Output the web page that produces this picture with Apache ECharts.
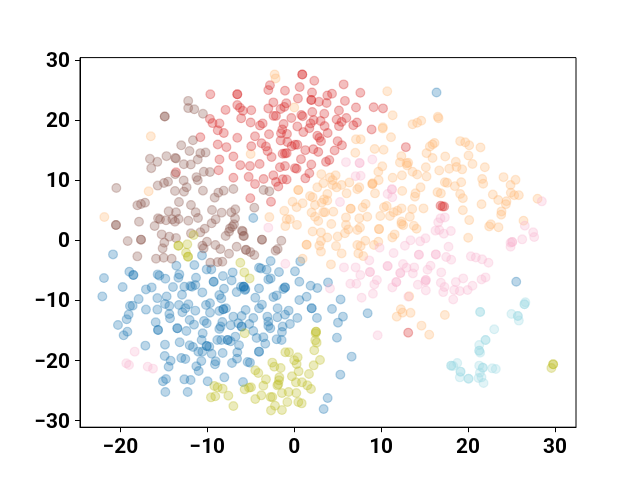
<!DOCTYPE html>
<html><head><meta charset="utf-8">
<style>html,body{margin:0;padding:0;background:#fff}#c{width:640px;height:480px}</style>
<script src="https://cdn.jsdelivr.net/npm/echarts@6/dist/echarts.min.js"></script>
</head><body><div id="c"></div>
<script>
const xTicks=[-20,-10,0,10,20,30];
const yTicks=[-30,-20,-10,0,10,20,30];
const blue=[[16.38,24.6],[25.55,-6.92],[-4.71,3.7],[-2.71,-3.47],[0.7,-3.53],[-4.05,-4.58],[-3.82,-4.7],[-3.17,-4.92],[-1.75,-5.3],[0.09,-5.19],[-2.98,-6.53],[-2.71,-6.36],[0.59,-6.91],[3.89,-7.03],[1.89,-7.58],[2.66,-7.97],[-1.06,-7.86],[-1.06,-7.86],[-1.25,-8.14],[-4.05,-8.03],[-5.78,-7.75],[-6.13,-7.75],[-5.67,-8.3],[-2.02,-9.19],[-2.4,-9.47],[-4.48,-9.58],[1.43,-9.41],[0.59,-9.97],[5.34,-9.86],
[-20.85,-2.36],[-21.89,-6.3],[-22.08,-9.36],[-19.74,-7.8],[-18.97,-5.25],[-18.51,-5.8],[-18.51,-5.8],[-15.71,-5.69],[-15.52,-5.9],[-14.83,-6.41],[-13.33,-6.25],[-13.22,-5.69],[-13.56,-4.25],[-11.49,-4.14],[-10.61,-2.53],[-10.07,-4.86],[-9.54,-4.86],[-11.3,-6.25],[-17.06,-8.19],[-16.4,-7.86],[-13.95,-7.8],[-12.64,-7.75],[-11.95,-7.64],[-11.38,-7.47],[-11.76,-7.75],[-10.57,-8.69],[-9.27,-6.92],[-9.27,-6.92],[-8.2,-5.97],[-7.08,-5.36],[-7.2,-6.69],[-8.08,-8.08],[-8.62,-9.14],[-8.39,-9.69],[-6.62,-8.64],[-5.82,-7.75],[-5.82,-7.75],[-5.62,-8.14],[-15.75,-9.64],[-14.68,-9.36],[-12.91,-9.08],[-17.9,-9.8],
[-18.9,-10.95],[-18.59,-10.9],[-17.06,-11.56],[-15.75,-11.56],[-14.87,-10.62],[-14.37,-10.95],[-14.37,-12.28],[-14.29,-13.0],[-13.26,-10.78],[-12.18,-10.67],[-12.53,-11.34],[-12.87,-11.99],[-11.38,-11.73],[-19.05,-12.39],[-19.28,-13.17],[-20.28,-14.12],[-19.2,-15.23],[-19.63,-15.84],[-15.94,-13.67],[-15.67,-14.95],[-15.67,-14.95],[-13.45,-14.67],[-13.45,-14.67],[-12.41,-15.12],[-12.03,-13.28],[-11.53,-14.06],[-10.38,-13.45],[-10.07,-13.84],[-10.15,-10.78],[-9.69,-10.5],[-9.69,-12.06],[-8.62,-11.78],[-8.16,-11.51],[-8.16,-11.51],[-7.85,-11.34],[-8.27,-13.62],[-8.62,-14.78],[-8.46,-14.39],[-7.31,-14.17],[-7.0,-12.73],[-6.05,-12.62],[-5.59,-11.62],[-6.43,-13.84],[-6.05,-14.39],[-6.05,-14.39],[-10.53,-15.51],[-10.65,-16.62],[-8.85,-16.62],[-8.39,-16.62],[-7.66,-16.62],[-7.66,-16.62],[-7.31,-16.84],[-6.77,-16.06],[-6.35,-17.5],[-13.18,-17.0],[-12.03,-17.5],[-11.65,-17.78],[-11.03,-18.56],[-10.57,-18.56],[-10.07,-17.62],[-10.07,-17.62],[-9.77,-17.73],[-9.5,-18.9],[-8.23,-18.78],[-6.55,-18.67],[-6.58,-19.73],[-7.16,-20.45],[-9.04,-20.17],[-9.12,-20.67],[-10.69,-20.12],[-11.26,-21.0],[-10.99,-21.78],[-17.13,-17.56],[-14.87,-17.39],[-14.9,-19.28],[-14.22,-20.06],[-14.45,-21.06],[-12.99,-19.62],[-12.53,-19.78],[-14.75,-23.12],[-15.1,-23.5],[-12.64,-23.17],[-11.92,-23.28],[-9.96,-23.5],[-8.04,-22.84],[-5.89,-23.62],[-14.83,-25.28],[-12.26,-25.28],[-5.36,-20.28],[-5.09,-20.39],
[-3.71,-10.73],[-4.05,-11.34],[-4.71,-12.95],[-5.17,-13.95],[-4.71,-15.12],[-3.09,-12.73],[-1.94,-12.84],[-2.98,-13.56],[-2.98,-14.28],[-2.75,-14.67],[-1.91,-11.34],[-1.06,-12.4],[-0.64,-11.73],[0.36,-12.95],[-0.49,-13.95],[-1.33,-14.39],[-1.41,-15.28],[-2.02,-16.5],[-1.45,-16.62],[-4.32,-16.28],[-3.55,-16.17],[-3.33,-17.23],[-4.05,-18.56],[-4.05,-18.56],[2.01,-11.34],[2.01,-11.34],[2.62,-12.95],[4.35,-11.45],[5.61,-12.73],[5.04,-13.73],[8.45,-12.17],[4.92,-16.23],[6.61,-19.39],[5.31,-22.39],[3.85,-26.28],[3.39,-28.12]];
const orange=[[-2.25,27.6],[-2.14,26.95],[0.01,22.1],[10.71,24.8],[11.33,20.8],[10.2,18.8],[10.18,18.6],[11.14,17.15],[7.11,16.8],[7.65,16.8],[7.03,14.55],[9.26,15.2],[10.29,15.05],[-5.01,14.35],[12.33,14.0],[12.17,12.95],[12.94,12.8],[10.14,12.3],[9.68,11.4],[12.4,10.8],[11.33,10.4],[3.12,11.0],[4.77,10.8],[4.12,10.45],[4.42,10.0],[9.72,10.0],[8.99,9.35],[8.99,9.35],
[16.53,20.55],[16.61,20.3],[14.62,19.9],[14.15,19.55],[13.62,19.3],[19.1,16.5],[19.68,16.3],[20.14,15.8],[21.44,15.45],[16.15,16.2],[15.92,15.95],[15.61,15.6],[15.23,14.5],[15.92,13.7],[17.38,13.95],[20.06,14.1],[18.6,13.05],[20.52,12.7],[18.68,12.2],[19.33,11.8],[17.84,11.9],[16.69,11.6],[15.15,12.15],[21.94,12.15],[13.12,12.9],[13.0,12.45],[13.62,11.4],[14.15,10.95],[15.23,10.6],[24.09,10.5],[25.47,10.05],[21.63,10.2],[21.75,9.4],[24.9,9.2],[17.34,9.65],[17.6,9.55],[18.49,9.0],[19.22,9.65],[14.54,8.8],
[12.43,8.2],[13.96,7.8],[13.89,7.25],[16.49,8.0],[16.88,7.8],[19.1,7.7],[19.41,7.0],[22.86,7.6],[23.48,6.7],[24.43,6.5],[24.36,6.0],[24.93,7.9],[25.32,7.5],[25.85,7.5],[28.0,6.9],[21.56,6.0],[12.35,5.3],[13.58,5.2],[14.88,5.3],[19.41,5.0],[23.86,4.8],[23.82,4.25],[13.31,3.9],[20.14,3.35],[26.39,3.25],[22.63,2.65],[22.44,2.3],[23.51,2.15],[12.35,3.1],[12.54,2.5],[12.35,2.7],[13.77,2.4],[14.08,1.9],[20.02,0.4],[13.23,-9.35],
[0.47,8.35],[0.47,8.35],[3.35,9.5],[2.66,8.8],[4.42,9.2],[4.88,8.8],[5.46,9.2],[6.34,9.6],[7.26,8.5],[7.49,8.8],[9.03,9.5],[6.03,7.8],[3.81,7.7],[1.82,7.35],[9.3,7.8],[2.12,7.15],[-0.18,6.4],[0.97,6.15],[0.28,5.5],[2.39,5.85],[3.16,6.25],[3.81,6.6],[3.43,6.8],[4.5,4.75],[3.35,4.65],[3.54,4.65],[2.0,4.6],[6.5,5.25],[6.5,5.25],[8.22,6.05],[7.88,5.45],[7.49,3.65],[8.41,3.9],[5.96,3.8],[-1.14,4.9],[-2.86,3.85],[-0.49,3.5],[-0.87,3.5],[-1.02,2.35],[0.32,2.55],[2.77,3.2],[2.39,3.9],[4.27,2.7],[5.96,2.55],[6.23,1.8],[5.84,1.15],[5.0,0.6],[2.12,1.45],[3.08,1.3],[3.81,0.45],[1.43,-0.75],[1.43,-0.75],[3.08,-0.15],[2.89,-0.9],[3.08,-1.9],[4.81,-0.97],[5.46,-2.2],[7.26,1.7],[7.57,2.1],[9.76,1.85],[9.76,1.85],[8.18,-0.08],[9.18,-0.8],[7.26,-0.8],[7.65,-0.97],[7.38,-2.2],[7.95,-2.65],[9.68,-0.25],[4.23,-4.03],[0.97,-3.08],[10.64,5.7],[10.33,5.5],[11.87,4.9],[11.44,4.65],[9.91,4.03],[11.02,4.03],[11.29,0.47],[11.56,0.97],
[-16.75,8.14],[-21.85,3.86],[12.27,-11.5],[12.47,-12.06],[13.39,-12.1],[11.8,-12.73],[17.34,-12.45],[14.65,-14.23],[15.54,-15.73],[-16.5,17.3]];
const red=[[-9.65,24.3],[-6.55,24.3],[-6.55,24.3],[-6.55,22.5],[-6.24,22.05],[-5.9,21.55],[-7.9,21.7],[-6.1,20.3],[-9.7,20.2],[-9.4,19.5],[-8.6,19.45],[-8.8,18.3],[-8.1,17.85],[-10.8,17.15],[-6.55,17.05],[-8.8,15.95],[-7.8,15.5],[-7.0,13.95],[-8.6,13.45],[-6.2,12.5],[-8.7,11.65],[-7.0,10.4],[-13.6,11.3],
[0.93,27.6],[0.93,27.6],[2.31,26.55],[5.69,25.95],[0.63,25.5],[-2.79,25.8],[-2.98,25.0],[-1.06,24.9],[7.61,24.55],[2.05,24.6],[0.43,23.6],[1.97,23.35],[1.97,23.35],[-2.4,22.95],[-0.91,22.8],[3.81,24.1],[4.35,24.4],[2.85,23.05],[3.73,22.85],[5.84,23.2],[-1.14,22.2],[-1.56,21.85],[-2.98,21.95],[-4.94,21.65],[7.11,22.1],[9.14,22.15],[10.22,21.95],[5.15,21.6],[2.08,21.35],[3.46,21.05],[0.82,20.85],[0.97,20.65],[-0.33,20.35],[-2.37,20.7],[-2.1,20.7],[-5.01,19.6],[-3.63,19.45],[-3.94,19.1],[6.0,20.35],[4.88,20.1],[5.46,19.7],[5.15,19.0],[7.22,19.6],[6.8,19.15],[2.24,20.0],[3.04,19.85],[1.89,19.45],[-1.22,19.35],[0.36,18.95],[3.5,19.0],[1.74,18.65],[-1.37,18.45],[-1.52,17.8],[-0.83,17.7],[1.05,18.0],[3.85,17.85],[8.91,18.45],[-2.9,17.65],[-4.51,17.3],[2.66,17.4],[2.89,17.05],[-1.56,16.6],[-0.79,16.35],[3.08,16.5],[-3.75,16.15],[5.0,16.5],[-3.25,15.6],[-4.94,15.65],[-3.06,14.85],[0.09,15.9],[-0.29,15.65],[0.36,15.9],[1.28,15.0],[2.2,15.15],[2.77,14.7],[5.5,15.8],[4.65,14.95],[12.85,15.5],[-1.33,14.4],[-0.87,14.5],[-1.06,14.45],[-2.6,13.85],[0.78,13.5],[1.97,12.6],[4.04,13.35],[3.66,13.05],[-5.09,12.35],[-3.98,12.7],[-1.06,12.35],[-1.64,12.15],[0.09,12.0],[0.28,11.9],[1.74,11.15],[-2.4,10.8],[-5.24,10.55],[-3.52,10.2],[-1.33,10.15],[-0.87,10.1],[1.28,10.3],[-2.1,9.7],[-4.51,9.35],[-1.83,8.95],[-2.67,6.4],[-5.05,7.0],[16.84,5.75],[17.26,5.6],[17.07,5.6],[13.12,-15.4]];
const brown=[[-12.2,23.2],[-12.2,22.0],[-11.5,21.8],[-10.5,21.05],[-14.9,20.6],[-14.9,20.6],[-11.65,16.65],[-13.0,15.8],[-12.05,14.85],[-10.8,14.5],[-10.2,14.6],[-16.6,13.55],[-15.75,13.05],[-16.45,12.0],[-14.7,14.0],[-13.7,13.7],[-13.6,13.6],[-11.1,13.45],[-12.7,12.65],[-11.9,12.6],[-10.4,11.4],[-9.7,11.35],[-13.7,11.0],[-11.25,10.5],[-11.1,10.0],[-12.72,9.95],
[-20.47,8.7],[-15.71,9.09],[-14.98,9.53],[-14.52,9.75],[-13.72,8.2],[-12.68,8.09],[-12.38,8.81],[-10.5,8.25],[-9.15,7.09],[-8.73,7.92],[-8.12,8.25],[-7.0,8.53],[-13.26,6.36],[-17.17,6.25],[-17.63,6.03],[-18.05,5.81],[-11.88,5.86],[-11.34,4.64],[-14.45,4.81],[-13.6,4.64],[-9.46,5.03],[-8.35,4.59],[-6.78,5.14],[-7.24,4.64],[-15.67,3.64],[-15.44,3.47],[-14.75,3.31],[-14.02,3.47],[-13.3,3.53],[-13.72,3.08],[-12.18,3.25],[-11.07,3.7],[-17.86,3.08],[-20.51,2.53],[-20.51,2.53],[-16.06,2.36],[-9.04,3.47],[-9.5,2.81],[-10.3,1.92],[-10.8,1.31],[-11.88,1.14],[-6.81,3.64],[-6.93,2.64],[-7.39,1.97],[-7.12,2.25],[-7.5,1.42],[-7.89,0.7],[-6.01,1.59],[-5.85,0.7],[-15.25,0.97],[-14.37,0.59],[-13.6,0.36],[-14.95,-0.42],[-19.16,-0.14],[-17.63,0.09],[-17.63,0.09],[-15.14,-1.36],[-18.05,-2.69],[-15.9,-3.08],[-15.02,-2.92],[-14.1,-3.08],[-10.04,-0.25],[-10.57,-0.92],[-10.42,-1.36],[-9.07,-0.8],[-8.5,-1.47],[-7.5,-2.25],[-6.62,-1.08],[-9.65,-3.75],[-8.81,-3.64],[-8.27,-3.58],[-5.55,-1.64],
[-3.52,8.36],[-2.86,8.14],[-4.59,5.42],[-5.93,1.47],[-5.78,0.7],[-3.71,0.09],[-3.71,0.09],[-1.48,-0.08],[-5.55,-1.58],[-5.05,-1.97],[-4.59,-2.47],[-2.14,-1.75],[-1.9,-1.47]];
const pink=[[5.96,13.0],[7.53,12.85],[7.53,12.85],[8.99,13.45],[7.07,10.67],[7.65,10.72],[11.25,8.47],[11.25,8.47],[10.75,7.7],[11.29,7.14],[5.27,6.36],[-2.98,2.09],[9.83,-1.25],[8.64,-3.36],[-1.02,-3.92],[11.44,-2.14],[5.73,-4.53],[7.07,-4.53],[8.72,-5.3],[8.72,-5.3],[10.75,-4.3],[10.75,-4.3],[12.52,-3.97],[12.21,-5.47],[12.21,-5.47],[7.61,-5.8],[9.52,-6.64],[9.22,-7.36],[6.46,-7.25],[7.15,-7.25],[11.75,-6.97],[11.75,-6.97],[11.29,-7.86],[4.12,-8.03],[9.06,-8.91],[7.76,-9.58],[13.13,-9.41],
[28.5,6.47],[17.34,3.8],[16.84,3.64],[16.57,2.97],[26.54,2.42],[16.26,1.59],[16.69,1.7],[17.22,1.09],[18.03,1.53],[27.5,1.31],[27.62,0.53],[26.24,0.14],[25.09,-0.3],[25.09,-0.3],[24.9,-0.41],[24.9,-1.08],[15.11,0.31],[14.5,-0.19],[13.39,-0.02],[12.74,-0.92],[17.76,-1.08],[14.35,-2.41],[14.35,-2.41],[16.3,-2.36],[16.3,-2.36],[17.49,-2.8],[18.07,-3.25],[20.33,-2.69],[20.9,-2.86],[21.63,-3.19],[22.36,-3.75],[12.93,-4.58],[13.81,-4.53],[13.66,-5.53],[15.69,-4.25],[15.34,-4.92],[16.92,-5.36],[19.45,-6.36],[18.6,-6.97],[22.02,-6.19],[21.56,-6.53],[20.52,-7.58],[19.95,-8.3],[19.06,-8.47],[18.41,-8.3],[15.15,-6.64],[15.15,-6.64],[15.08,-6.9],[16.88,-7.08],[14.23,-7.41],[17.3,-7.8],[17.15,-8.64],[15.15,-8.36],[18.3,-9.86],
[-18.36,-18.56],[-19.32,-20.5],[-19.01,-20.78],[-16.86,-21.06],[-16.25,-21.39],[9.6,-15.84]];
const olive=[[29.8,-20.67],[29.8,-20.67],[29.6,-21.28],[2.51,-15.23],[2.51,-15.23],[2.47,-15.5],[2.43,-16.67],[2.58,-17.06],[2.31,-18.34],[-1.02,-18.67],[-0.6,-18.67],[0.4,-19.5],[0,-20],[0.28,-20.62],[2.97,-19.95],[2.24,-20.84],[-2.52,-20.39],[-2.29,-21.06],[-1.56,-21.28],[0.51,-21.84],[1.7,-22.28],[-4.48,-21.67],[-4.13,-22.12],[-0.26,-22.67],[-3.25,-23.17],[-1.71,-22.84],[-1.75,-23.34],[-1.83,-24.0],[0.2,-23.67],[0.9,-23.67],[1.51,-24.17],[1.93,-24.78],[-3.55,-24.23],[-1.94,-24.17],[-1.41,-25.45],[-0.64,-25.28],[0.24,-25.45],[-5.7,-24.84],[-5.2,-24.56],[-4.97,-24.5],[-3.78,-25.84],[-4.48,-26.45],[-2.71,-26.12],[-2.52,-26.12],[-0.79,-26.95],[0.47,-26.95],[0.86,-27.17],[-2.21,-27.56],[-2.67,-28.34],[-1.41,-28.28],
[-9.19,-24.28],[-8.81,-24.5],[-8.23,-24.73],[-7.58,-25.89],[-9.58,-26.17],[-9.08,-26.0],[-7.0,-27.62],[-5.7,-15.5],[-5.13,-6.36],[-5.74,-5.36],[-6.2,-3.75],[-11.57,0.86],[-13.33,-0.92],[-13.33,-0.92],[-12.3,-0.69],[-12.45,-2.08],[-12.22,-2.75],[-12.22,-2.75]];
const cyan=[[21.4,-11.95],[21.4,-11.95],[25.0,-12.28],[25.74,-12.62],[25.74,-12.62],[25.85,-13.39],[26.5,-10.67],[26.5,-10.67],[26.6,-10.33],[23.02,-14.84],[22.02,-16.62],[22.02,-16.62],[21.29,-17.45],[21.29,-18.4],[21.29,-18.4],[21.4,-18.73],[18.76,-20.45],[18.07,-20.89],[18.07,-20.89],[18.3,-20.95],[19.14,-21.89],[19.14,-21.89],[19.06,-22.84],[20.06,-23.06],[20.06,-23.06],[21.29,-20.89],[21.71,-21.23],[21.71,-21.23],[22.79,-21.34],[23.2,-21.45],[21.37,-22.06],[21.56,-22.84],[21.21,-22.95],[21.79,-23.78]];
const groups=[[blue,'#1f77b4'],[orange,'#ffbb78'],[red,'#d62728'],[brown,'#8c564b'],[pink,'#f7b6d2'],[olive,'#bcbd22'],[cyan,'#9edae5']];
const font={fontFamily:'Roboto',fontWeight:'bold',fontSize:20.83,color:'#000'};
const ax=(ticks,min,max,margin,pad)=>({type:'value',min,max,
  axisLine:{show:true,onZero:false,lineStyle:{color:'#000',width:1}},
  axisTick:{show:true,length:5,inside:false,customValues:ticks,lineStyle:{color:'#000',width:1}},
  axisLabel:{show:true,margin,customValues:ticks,formatter:v=>'{v|'+String(v).replace('-','\u2212')+'}',rich:{v:Object.assign({padding:pad},font)}},
  splitLine:{show:false}});
const chart=echarts.init(document.getElementById('c'),null,{renderer:'canvas'});
chart.setOption({animation:false,backgroundColor:'#fff',
  grid:{left:80,right:64,top:57.6,bottom:52.8,show:true,borderColor:'#000',borderWidth:1,backgroundColor:'transparent'},
  xAxis:ax(xTicks,-24.65,32.43,8,[2,0,0,0]),
  yAxis:ax(yTicks,-31.14,30.41,10,[4,0,0,0]),
  series:groups.map(([d,c])=>({type:'scatter',data:d,symbol:'circle',symbolSize:8.8,silent:true,
    itemStyle:{color:c,opacity:0.3,borderColor:c,borderWidth:1.2}}))
});
</script></body></html>
